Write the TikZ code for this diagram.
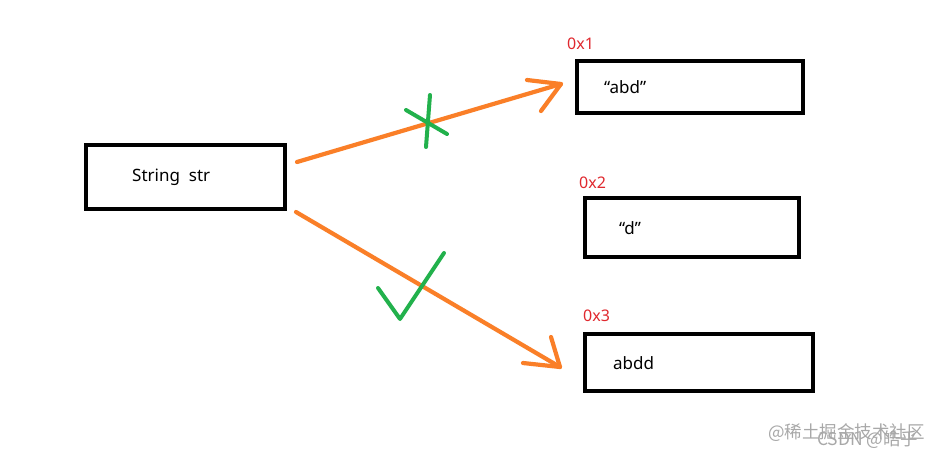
\documentclass[tikz,border=0pt]{standalone}
\usepackage{fontspec}
\setmainfont{Noto Sans}
\newfontfamily\cjk{Noto Sans CJK SC}
\definecolor{paintorange}{HTML}{FA7F28}
\definecolor{paintgreen}{HTML}{22B14C}
\definecolor{addrred}{HTML}{E0282E}
\definecolor{wmgray}{HTML}{A8A8A8}
\begin{document}
\begin{tikzpicture}[x=1pt,y=-1pt,
  membox/.style={draw=black,line width=4pt,rectangle,inner sep=0pt},
  boxtext/.style={font=\fontsize{17}{19}\selectfont,anchor=west,inner sep=0pt},
  addr/.style={font=\fontsize{16}{18}\selectfont,text=addrred,anchor=west,inner sep=0pt},
  ptr/.style={draw=paintorange,line width=4.2pt,line cap=round,line join=round},
  greenmark/.style={draw=paintgreen,line width=4pt,line cap=round,line join=round},
  wm/.style={font=\cjk\fontsize{17.5}{19}\selectfont,text=wmgray,anchor=west,inner sep=0pt}]
\useasboundingbox (0,0) rectangle (945,458);
\fill[white] (0,0) rectangle (945,458);
% boxes
\node[membox,minimum width=199pt,minimum height=64pt] (str) at (185.5,177) {};
\node[membox,minimum width=226pt,minimum height=52pt] (b1) at (690,87) {};
\node[membox,minimum width=214pt,minimum height=59pt] (b2) at (692,227.5) {};
\node[membox,minimum width=228pt,minimum height=57pt] (b3) at (699,362.5) {};
% texts
\node[boxtext] (tstr) at (132,177) {String\ \ str};
\node[boxtext] (t1) at (604,87) {“abd”};
\node[boxtext] (t2) at (619,228) {“d”};
\node[boxtext] (t3) at (613,363) {abdd};
\node[addr] (a1) at (567,44) {0x1};
\node[addr] (a2) at (579,183) {0x2};
\node[addr] (a3) at (583,316) {0x3};
% pointer arrows
\coordinate (s1) at (297,162);
\coordinate (e1) at (561,84);
\coordinate (h1a) at (527,80);
\coordinate (h1b) at (541,111);
\draw[ptr] (s1) -- (e1);
\draw[ptr] (h1a) -- (e1) -- (h1b);
\coordinate (s2) at (296,212);
\coordinate (e2) at (560,367);
\coordinate (h2a) at (551,337);
\coordinate (h2b) at (523,363);
\draw[ptr] (s2) -- (e2);
\draw[ptr] (h2a) -- (e2) -- (h2b);
% green marks
\coordinate (x1) at (430,95);
\coordinate (x2) at (426,147);
\coordinate (x3) at (406,110);
\coordinate (x4) at (447,134);
\draw[greenmark] (x1) -- (x2);
\draw[greenmark] (x3) -- (x4);
\coordinate (c1) at (378,288);
\coordinate (c2) at (400,319);
\coordinate (c3) at (444,253);
\draw[greenmark] (c1) -- (c2) -- (c3);
% watermark
\node[wm] (w1) at (768,433) {@稀土掘金技术社区};
\node[wm] (w2) at (817,440) {CSDN @皓乎};
\end{tikzpicture}
\end{document}
